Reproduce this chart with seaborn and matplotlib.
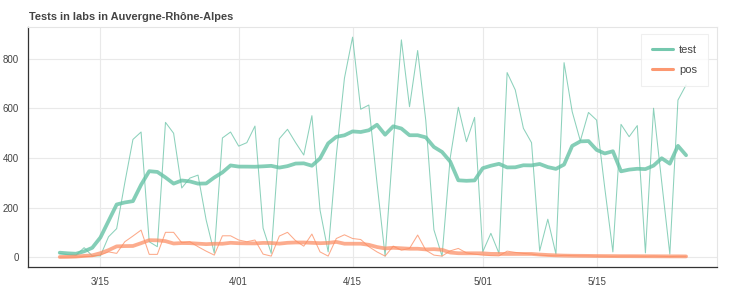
import numpy as np
import pandas as pd
import matplotlib
matplotlib.use("Agg")
import matplotlib.pyplot as plt
import matplotlib.dates as mdates
from matplotlib.ticker import MultipleLocator
from matplotlib.lines import Line2D
import seaborn as sns

# ---- data (daily, 2020-03-10 .. 2020-05-26) ----
start_date = "2020-03-10"
test = [15, 10, 8, 38, 5, 5, 82, 115, 300, 475, 505, 62, 42, 544, 500, 279, 319, 331, 150, 16,
        481, 505, 448, 462, 529, 117, 15, 478, 516, 462, 412, 571, 190, 21, 410, 722, 888, 597,
        614, 300, 4, 460, 877, 607, 834, 552, 110, 4, 400, 605, 466, 564, 21, 96, 15, 745, 675,
        520, 462, 25, 153, 12, 785, 587, 469, 584, 553, 280, 21, 536, 486, 531, 17, 601, 304,
        12, 634, 695]
pos = [0, 0, 0, 2, 3, 8, 21, 15, 62, 85, 109, 11, 11, 100, 100, 58, 62, 42, 24, 8,
       86, 86, 69, 62, 69, 12, 4, 85, 100, 66, 44, 93, 21, 4, 75, 90, 75, 71,
       42, 21, 4, 44, 28, 35, 89, 28, 8, 4, 25, 35, 17, 12, 8, 6, 5, 24, 19,
       15, 12, 8, 6, 5, 7, 6, 5, 5, 4, 4, 3, 4, 4, 4, 3, 4, 3,
       2, 3, 3]
series_names = ["test", "pos"]
tick_dates = ["2020-03-15", "2020-04-01", "2020-04-15", "2020-05-01", "2020-05-15"]
tick_labels = ["3/15", "4/01", "4/15", "5/01", "5/15"]
title = "Tests in labs in Auvergne-Rhône-Alpes"

dates = pd.date_range(start_date, periods=len(test), freq="D")
df = pd.DataFrame({"date": dates, "test": test, "pos": pos})
df["test_avg"] = df["test"].rolling(7, center=True, min_periods=1).mean()
df["pos_avg"] = df["pos"].rolling(7, center=True, min_periods=1).mean()

colors = {"test": "#66c2a5", "pos": "#fc8d62"}
alphas = {"test": 0.8, "pos": 0.72}

sns.set_style("white")
plt.rcParams["font.family"] = ["Liberation Sans", "DejaVu Sans"]

W, H = 741, 289
fig = plt.figure(figsize=(W / 100, H / 100), dpi=100)
L, R, T, B = 28, 717, 27, 267
ax = fig.add_axes([L / W, 1 - B / H, (R - L) / W, (B - T) / H])

for name in series_names:
    sns.lineplot(data=df, x="date", y=name, ax=ax, color=colors[name],
                 linewidth=0.75, alpha=0.75, legend=False)
    sns.lineplot(data=df, x="date", y=name + "_avg", ax=ax, color=colors[name],
                 linewidth=2.7, alpha=alphas[name], legend=False)

# ranges (bokeh-like padding)
ax.set_xlim(dates[0] - pd.Timedelta(days=3.9), dates[-1] + pd.Timedelta(days=3.8))
ax.set_ylim(-40, 929)

ax.set_xticks(pd.to_datetime(tick_dates))
ax.set_xticklabels(tick_labels)
ax.yaxis.set_major_locator(MultipleLocator(200))
ax.yaxis.set_minor_locator(MultipleLocator(40))

ax.grid(True, which="major", color="#e9e9e9", linewidth=0.8)
ax.set_axisbelow(True)
ax.set_xlabel("")
ax.set_ylabel("")

for s in ["top", "right"]:
    ax.spines[s].set_color("#e5e5e5")
    ax.spines[s].set_linewidth(0.8)
for s in ["left", "bottom"]:
    ax.spines[s].set_color("#333333")
    ax.spines[s].set_linewidth(0.9)

ax.tick_params(axis="both", which="major", direction="out", length=4.5, width=0.8,
               color="#333333", labelsize=7.0, labelcolor="#444444", pad=2)
ax.tick_params(axis="x", which="major", pad=3)
ax.tick_params(axis="y", which="minor", direction="out", length=2.8, width=0.7,
               color="#333333")

handles = [Line2D([0], [0], color=colors[n], linewidth=2.2, alpha=0.9) for n in series_names]
leg = ax.legend(handles, series_names, loc="upper right",
                bbox_to_anchor=(0.987, 0.971), borderaxespad=0,
                fontsize=8, frameon=True, fancybox=False, handlelength=1.9,
                handletextpad=0.5, labelspacing=0.9, borderpad=1.0,
                labelcolor="#444444")
leg.get_frame().set_edgecolor("#ececec")
leg.get_frame().set_linewidth(0.8)

fig.text(29 / W, 1 - 19.5 / H, title, fontsize=7.9, fontweight="bold",
         color="#444444", va="baseline", ha="left")

fig.savefig("out.png", dpi=100)
